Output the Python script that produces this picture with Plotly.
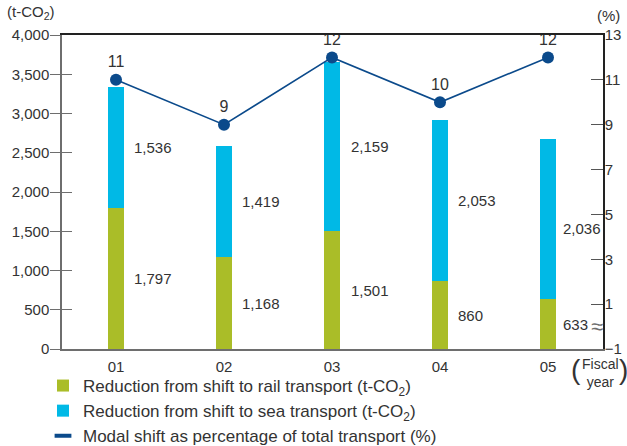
import plotly.graph_objects as go

years = ["01", "02", "03", "04", "05"]
rail = [1797, 1168, 1501, 860, 633]
sea = [1536, 1419, 2159, 2053, 2036]
share = [11, 9, 12, 10, 12]
left_ticks = [0, 500, 1000, 1500, 2000, 2500, 3000, 3500, 4000]
right_ticks = [-1, 1, 3, 5, 7, 9, 11, 13]

FONT = "Liberation Sans, Arial, sans-serif"
TXT = "#333333"
GREEN = "#aabd28"
CYAN = "#00b9e6"
NAVY = "#0b4a8b"
GRAY = "#6e6e6e"
NUM = 15

fig = go.Figure()
fig.add_trace(go.Bar(x=years, y=rail, name="Reduction from shift to rail transport (t-CO<sub>2</sub>)",
                     marker=dict(color=GREEN, line=dict(width=0)), width=0.15))
fig.add_trace(go.Bar(x=years, y=sea, name="Reduction from shift to sea transport (t-CO<sub>2</sub>)",
                     marker=dict(color=CYAN, line=dict(width=0)), width=0.15))
fig.add_trace(go.Scatter(x=years, y=share, yaxis="y2", mode="lines+markers+text",
                         text=[str(v) for v in share], textposition="top center",
                         textfont=dict(size=16, color=TXT, family=FONT),
                         line=dict(color=NAVY, width=1.6),
                         marker=dict(color=NAVY, size=12), showlegend=False,
                         cliponaxis=False))
fig.add_trace(go.Scatter(x=[years[0]], y=[None], yaxis="y2", mode="markers",
                         name="Modal shift as percentage of total transport (%)",
                         marker=dict(symbol="line-ew", size=12, color=NAVY,
                                     line=dict(color=NAVY, width=4))))
# helper trace so the overlay axes (top line, inner left ticks) render
fig.add_trace(go.Scatter(x=[years[0]], y=[None], xaxis="x2", yaxis="y3", showlegend=False,
                         hoverinfo="skip", mode="markers"))

annotations = []
xshift = [16, 16, 17, 16, 13]
for i, yr in enumerate(years):
    annotations.append(dict(x=i, y=rail[i] / 2, xref="x", yref="y", text=f"{rail[i]:,}",
                            showarrow=False, xanchor="left", xshift=xshift[i],
                            font=dict(size=NUM, color=TXT, family=FONT)))
    annotations.append(dict(x=i, y=rail[i] + sea[i] / 2, xref="x", yref="y", text=f"{sea[i]:,}",
                            showarrow=False, xanchor="left", xshift=xshift[i],
                            yshift=-9 if i == 4 else 0,
                            font=dict(size=NUM, color=TXT, family=FONT)))

annotations += [
    dict(x=0, y=1, xref="paper", yref="paper", text="(t-CO<sub>2</sub>)", showarrow=False,
         xanchor="right", yanchor="bottom", xshift=-5, yshift=11,
         font=dict(size=15, color=TXT, family=FONT)),
    dict(x=1, y=1, xref="paper", yref="paper", text="(%)", showarrow=False,
         xanchor="left", yanchor="bottom", xshift=-8, yshift=9,
         font=dict(size=15, color=TXT, family=FONT)),
    dict(x=1, y=0, xref="paper", yref="y2", text="≈", showarrow=False,
         xanchor="center", yanchor="middle", xshift=-6, yshift=0,
         font=dict(size=22, color=GRAY, family=FONT)),
    dict(x=1, y=0, xref="paper", yref="paper", text="Fiscal<br>year", showarrow=False,
         xanchor="center", yanchor="top", xshift=-3, yshift=-5,
         font=dict(size=14, color=TXT, family=FONT)),
    dict(x=1, y=0, xref="paper", yref="paper", text="(", showarrow=False,
         xanchor="center", yanchor="top", xshift=-27, yshift=-3,
         font=dict(size=28, color=TXT, family=FONT)),
    dict(x=1, y=0, xref="paper", yref="paper", text=")", showarrow=False,
         xanchor="center", yanchor="top", xshift=20, yshift=-3,
         font=dict(size=28, color=TXT, family=FONT)),
]

fig.update_layout(
    width=627, height=446,
    margin=dict(l=62, r=24, t=35, b=97, autoexpand=False),
    paper_bgcolor="white", plot_bgcolor="white",
    barmode="stack", bargap=0.85,
    font=dict(family=FONT, size=16, color=TXT),
    xaxis=dict(type="category", showgrid=False, showline=True, linecolor=GRAY, linewidth=1.5,
               ticks="outside", ticklen=3, tickcolor="rgba(0,0,0,0)", automargin=False,
               tickfont=dict(size=NUM, color=TXT, family=FONT)),
    xaxis2=dict(overlaying="x", side="top", showline=True, linecolor="#222222", linewidth=1.5,
                showticklabels=False, ticks="", showgrid=False, matches="x", type="category",
                automargin=False),
    yaxis=dict(range=[0, 4000], tickvals=left_ticks, tickformat=",d", showgrid=False,
               zeroline=False, showline=True, linecolor=GRAY, linewidth=1.5, automargin=False,
               ticks="outside", ticklen=10, tickcolor=GRAY, tickwidth=1.2, ticklabelstandoff=-2,
               tickfont=dict(size=NUM, color=TXT, family=FONT)),
    yaxis3=dict(range=[0, 4000], tickvals=left_ticks, overlaying="y", side="left",
                showticklabels=False, showgrid=False, zeroline=False, automargin=False,
                ticks="inside", ticklen=10, tickcolor=GRAY, tickwidth=1.2),
    yaxis2=dict(range=[-1, 13], tickvals=right_ticks, overlaying="y", side="right",
                showgrid=False, zeroline=False, showline=True, linecolor="#222222", linewidth=1.5,
                ticks="inside", ticklen=12, tickcolor="#555555", tickwidth=1.2, automargin=False,
                ticklabelstandoff=-3,
                tickfont=dict(size=NUM, color=TXT, family=FONT)),
    legend=dict(x=43 / 627, y=1 - 368 / 446, xref="container", yref="container",
                xanchor="left", yanchor="top", orientation="v",
                traceorder="normal", font=dict(size=17, color=TXT, family=FONT),
                tracegroupgap=0, itemwidth=30, bgcolor="rgba(0,0,0,0)"),
    annotations=annotations,
    showlegend=True,
)

fig.write_html("out.html", config={"displayModeBar": False},
               post_script="document.body.style.margin='0';document.body.style.overflow='hidden';")
